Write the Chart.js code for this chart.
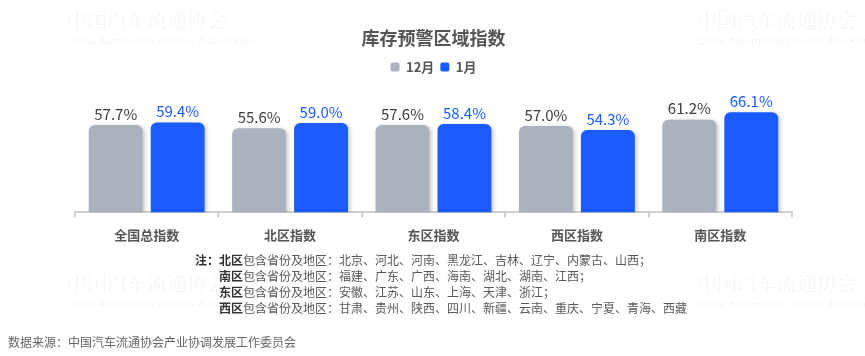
<!DOCTYPE html>
<html><head><meta charset="utf-8">
<script src="https://cdn.jsdelivr.net/npm/chart.js@4.4.1/dist/chart.umd.min.js"></script>
<style>html,body{margin:0;padding:0;background:#fff}#wrap{width:865px;height:356px}</style>
</head><body><div id="wrap"><canvas id="c" width="865" height="356"></canvas></div>
<script>
const categories = ['全国总指数','北区指数','东区指数','西区指数','南区指数'];
const seriesNames = ['12月','1月'];
const decValues = [57.7,55.6,57.6,57.0,61.2];
const janValues = [59.4,59.0,58.4,54.3,66.1];
const titleText = '库存预警区域指数';
const noteRegions = ['北区','南区','东区','西区'];
const noteProvinces = [
  '北京、河北、河南、黑龙江、吉林、辽宁、内蒙古、山西；',
  '福建、广东、广西、海南、湖北、湖南、江西；',
  '安徽、江苏、山东、上海、天津、浙江；',
  '甘肃、贵州、陕西、四川、新疆、云南、重庆、宁夏、青海、西藏'
];
const sourceText = '数据来源：中国汽车流通协会产业协调发展工作委员会';

const FONT = '"Noto Sans CJK SC","Noto Sans",sans-serif';
const GRAY = '#A9B2BE', BLUE = '#1A5CFF';

const shadowPlugin = {
  id:'shadow',
  beforeDatasetsDraw(chart){ const c=chart.ctx; c.save(); c.shadowColor='rgba(0,0,0,0.22)'; c.shadowBlur=4; c.shadowOffsetX=2; c.shadowOffsetY=1; },
  afterDatasetsDraw(chart){ chart.ctx.restore(); }
};

const watermarkPlugin = {
  id:'wm',
  beforeDraw(chart){
    const c=chart.ctx; c.save();
    const spots=[[67,20],[697,20],[67,283],[697,283]];
    c.fillStyle='rgba(0,0,0,0.045)';
    spots.forEach(([x,y])=>{
      c.font='20px "Noto Serif CJK SC","Noto Sans CJK SC",serif'; c.textBaseline='middle'; c.textAlign='left';
      c.fillText('中国汽车流通协会',x,y);
      c.font='11px "Liberation Sans",sans-serif';
      c.fillText('China Automobile Dealers Association',x,y+22);
    });
    c.restore();
  }
};

const labelsPlugin = {
  id:'vlabels',
  afterDatasetsDraw(chart){
    const c=chart.ctx; c.save();
    c.font='15px '+FONT; c.textAlign='center'; c.textBaseline='middle';
    chart.data.datasets.forEach((ds,i)=>{
      const meta=chart.getDatasetMeta(i);
      c.fillStyle = i===0 ? '#3d3d3d' : BLUE;
      meta.data.forEach((bar,j)=>{ c.fillText(ds.data[j].toFixed(1)+'%', bar.x, bar.y-11); });
    });
    c.restore();
  }
};

const notesPlugin = {
  id:'notes',
  afterDraw(chart){
    const c=chart.ctx; c.save();
    c.textBaseline='middle'; c.textAlign='left';
    const x0=219, y0=260, lh=16;
    c.font='bold 12px '+FONT; c.fillStyle='#333';
    c.fillText('注：', x0-c.measureText('注：').width, y0);
    noteRegions.forEach((r,i)=>{
      const y=y0+i*lh;
      c.font='bold 12px '+FONT; c.fillStyle='#333';
      c.fillText(r,x0,y);
      const w=c.measureText(r).width;
      c.font='12px '+FONT; c.fillStyle='#595959';
      c.fillText('包含省份及地区：'+noteProvinces[i], x0+w, y);
    });
    c.font='12px '+FONT; c.fillStyle='#666';
    c.fillText(sourceText, 8, 342);
    c.restore();
  }
};

new Chart(document.getElementById('c'),{
  type:'bar',
  data:{
    labels:categories,
    datasets:[
      {label:seriesNames[0], data:decValues, backgroundColor:GRAY, borderRadius:{topLeft:6,topRight:6}, borderSkipped:'bottom'},
      {label:seriesNames[1], data:janValues, backgroundColor:BLUE, borderRadius:{topLeft:6,topRight:6}, borderSkipped:'bottom'}
    ]
  },
  options:{
    responsive:false, animation:false,
    devicePixelRatio:1,
    categoryPercentage:0.864, barPercentage:0.87,
    layout:{padding:{top:27,left:75,right:73,bottom:103}},
    plugins:{
      title:{display:true,text:titleText,color:'#555',font:{family:FONT,size:18,weight:'bold'},padding:{top:0,bottom:6}},
      legend:{display:true,labels:{color:'#555',font:{family:FONT,size:13,weight:'bold'},boxWidth:9,boxHeight:9,useBorderRadius:true,borderRadius:2,padding:6}},
      tooltip:{enabled:false}
    },
    scales:{
      x:{
        grid:{offset:true,drawOnChartArea:false,drawTicks:true,tickLength:5,color:'#d0d0d0',lineWidth:2},
        border:{display:true,color:'#d0d0d0',width:2},
        ticks:{color:'#555',font:{family:FONT,size:13,weight:'bold'},padding:10}
      },
      y:{display:false,min:0,max:85}
    }
  },
  plugins:[watermarkPlugin,shadowPlugin,labelsPlugin,notesPlugin]
});
</script></body></html>
